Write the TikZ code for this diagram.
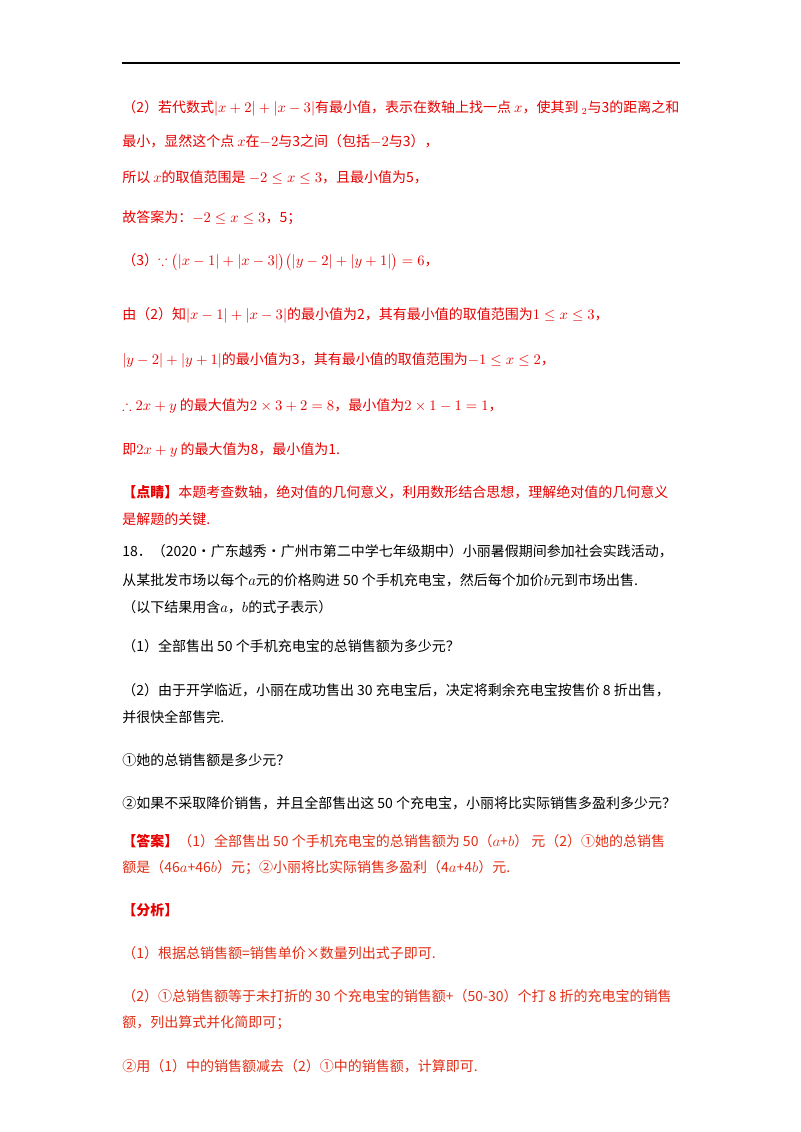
\documentclass[tikz,border=0pt]{standalone}
\usepackage{amsmath,amssymb}
\usepackage{fontspec}
\setmainfont{Noto Sans CJK SC}
\definecolor{rd}{RGB}{230,0,0}
\definecolor{or}{RGB}{225,45,20}
\begin{document}
\begin{tikzpicture}[x=0.75pt,y=-0.75pt,
  ln/.style={anchor=west,inner sep=0pt,font=\fontsize{10.5}{12}\selectfont},
  r/.style={ln,text=rd}, o/.style={ln,text=or}, k/.style={ln,text=black}]
\useasboundingbox (0,0) rectangle (800,1132);
\coordinate (ra) at (122,63); \coordinate (rb) at (680,63);
\draw[line width=0.8pt] (ra) -- (rb);
\node[r] (l1) at (122,108) {（2）若代数式$\lvert x+2\rvert+\lvert x-3\rvert$有最小值，表示在数轴上找一点 $x$，使其到 $_2$与3的距离之和};
\node[r] (l2) at (122,141) {最小，显然这个点 $x$在$-2$与3之间（包括$-2$与3），};
\node[r] (l3) at (122,178) {所以 $x$的取值范围是 $-2\le x\le 3$，且最小值为5，};
\node[r] (l4) at (122,218) {故答案为：$-2\le x\le 3$，5；};
\node[r] (l5) at (122,262) {（3）$\because\bigl(\lvert x-1\rvert+\lvert x-3\rvert\bigr)\bigl(\lvert y-2\rvert+\lvert y+1\rvert\bigr)=6$，};
\node[r] (l6) at (122,315) {由（2）知$\lvert x-1\rvert+\lvert x-3\rvert$的最小值为2，其有最小值的取值范围为$1\le x\le 3$，};
\node[r] (l7) at (122,360) {$\lvert y-2\rvert+\lvert y+1\rvert$的最小值为3，其有最小值的取值范围为$-1\le x\le 2$，};
\node[r] (l8) at (122,406) {$\therefore 2x+y$ 的最大值为$2\times3+2=8$，最小值为$2\times1-1=1$，};
\node[r] (l9) at (122,450) {即$2x+y$ 的最大值为8，最小值为1.};
\node[r] (l10) at (122,492) {\textbf{【点睛】}本题考查数轴，绝对值的几何意义，利用数形结合思想，理解绝对值的几何意义};
\node[r] (l11) at (122,519) {是解题的关键.};
\node[k] (l12) at (122,551) {18．（2020•广东越秀•广州市第二中学七年级期中）小丽暑假期间参加社会实践活动，};
\node[k] (l13) at (122,580) {从某批发市场以每个$a$元的价格购进 50 个手机充电宝，然后每个加价$b$元到市场出售.};
\node[k] (l14) at (122,607) {（以下结果用含$a$，$b$的式子表示）};
\node[k] (l15) at (122,646) {（1）全部售出 50 个手机充电宝的总销售额为多少元？};
\node[k] (l16) at (122,690) {（2）由于开学临近，小丽在成功售出 30 充电宝后，决定将剩余充电宝按售价 8 折出售，};
\node[k] (l17) at (122,717) {并很快全部售完.};
\node[k] (l18) at (122,760) {①她的总销售额是多少元？};
\node[k] (l19) at (122,803) {②如果不采取降价销售，并且全部售出这 50 个充电宝，小丽将比实际销售多盈利多少元？};
\node[o] (l20) at (122,841) {{\color{rd}\textbf{【答案】}}（1）全部售出 50 个手机充电宝的总销售额为 50（$a$+$b$）\ 元（2）①她的总销售};
\node[o] (l21) at (122,868) {额是（46$a$+46$b$）元；②小丽将比实际销售多盈利（4$a$+4$b$）元.};
\node[r] (l22) at (122,910) {\textbf{【分析】}};
\node[o] (l23) at (122,953) {（1）根据总销售额=销售单价×数量列出式子即可.};
\node[o] (l24) at (122,996) {（2）①总销售额等于未打折的 30 个充电宝的销售额+（50-30）个打 8 折的充电宝的销售};
\node[o] (l25) at (122,1023) {额，列出算式并化简即可；};
\node[o] (l26) at (122,1066) {②用（1）中的销售额减去（2）①中的销售额，计算即可.};
\end{tikzpicture}
\end{document}
